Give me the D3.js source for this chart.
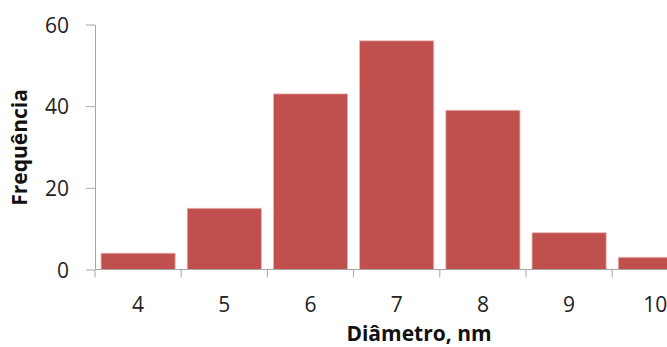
<!DOCTYPE html>
<html><head><meta charset="utf-8">
<script src="https://cdn.jsdelivr.net/npm/d3@7"></script>
<style>body{margin:0;background:#fff}svg{display:block}</style>
</head><body>
<script>
const categories = ["4","5","6","7","8","9","10"];
const values = [4, 15, 43, 56, 39, 9, 3];
const yTicks = [0, 20, 40, 60];

const W = 667, H = 347;
const mLeft = 95, mTop = 24.5, mBottom = 269.5, bandW = 86.2;
const svg = d3.select("body").append("svg").attr("width", W).attr("height", H);

const x = d3.scaleBand().domain(categories).range([mLeft, mLeft + bandW * categories.length]).paddingInner(0.14).paddingOuter(0.07);
const y = d3.scaleLinear().domain([0, 60]).range([mBottom, mTop]);

svg.append("g").selectAll("rect").data(values).join("rect")
  .attr("x", (d, i) => x(categories[i]))
  .attr("width", x.bandwidth())
  .attr("y", d => y(d))
  .attr("height", d => y(0) - y(d))
  .attr("fill", "#C0504D")
  .attr("stroke", "#e8b4b2").attr("stroke-width", 0.8);

const font = "'Open Sans', Lato, sans-serif";
const yAxis = svg.append("g").attr("transform", `translate(${mLeft},0)`)
  .call(d3.axisLeft(y).tickValues(yTicks).tickSize(9).tickPadding(17).tickSizeOuter(0));
yAxis.select(".domain").attr("stroke", "#a6a6a6");
yAxis.selectAll(".tick line").attr("stroke", "#a6a6a6");
yAxis.selectAll("text").attr("font-family", font).attr("font-size", 21).attr("fill", "#222").attr("dy", "0.36em");

const xg = svg.append("g").attr("transform", `translate(0,${mBottom})`);
xg.append("line").attr("x1", mLeft).attr("x2", W).attr("stroke", "#a6a6a6");
const bounds = d3.range(categories.length + 1).map(i => x.range()[0] + i * bandW);
xg.selectAll(".tk").data(bounds).join("line").attr("class", "tk")
  .attr("x1", d => d).attr("x2", d => d).attr("y1", 0).attr("y2", 8).attr("stroke", "#a6a6a6");
xg.selectAll("text").data(categories).join("text")
  .attr("x", d => x(d) + x.bandwidth() / 2).attr("y", 42.5)
  .attr("text-anchor", "middle")
  .attr("font-family", font).attr("font-size", 21).attr("fill", "#222")
  .text(d => d);

svg.append("text").attr("transform", "translate(27,147.5) rotate(-90)")
  .attr("text-anchor", "middle").attr("font-family", font).attr("font-weight", "bold")
  .attr("font-size", 21).attr("fill", "#111").text("Frequência");
svg.append("text").attr("x", 419).attr("y", 341)
  .attr("text-anchor", "middle").attr("font-family", font).attr("font-weight", "bold")
  .attr("font-size", 21).attr("fill", "#111").text("Diâmetro, nm");
</script>
</body></html>
